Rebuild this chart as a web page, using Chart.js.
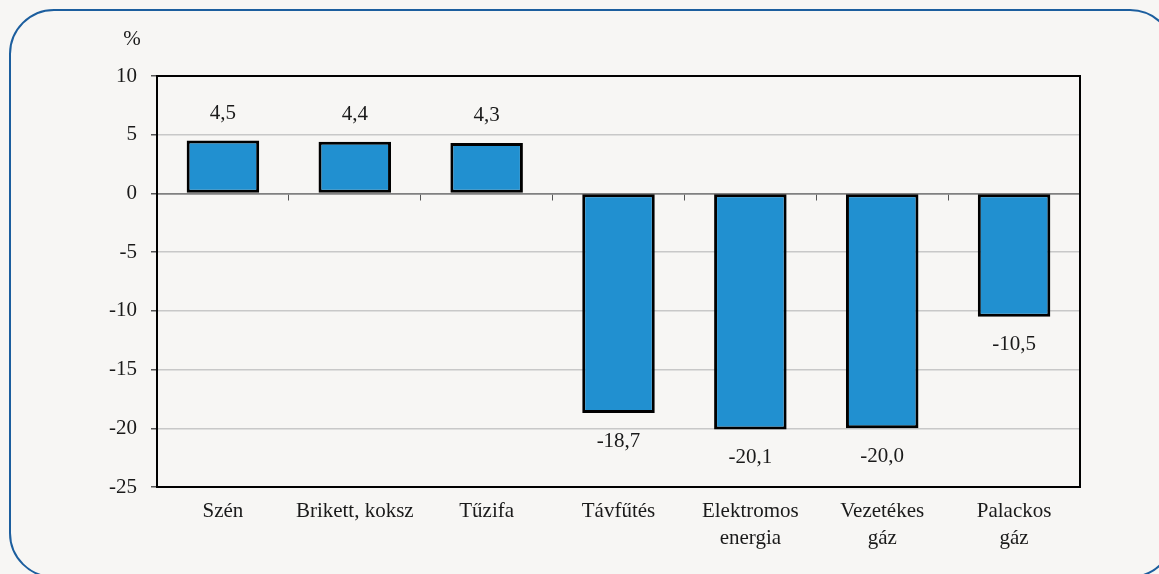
<!DOCTYPE html>
<html>
<head>
<meta charset="utf-8">
<script src="https://cdn.jsdelivr.net/npm/chart.js@4.4.1/dist/chart.umd.min.js"></script>
<style>
  html, body { margin: 0; padding: 0; background: #f7f6f4; overflow: hidden; }
  #wrap { position: relative; width: 1159px; height: 574px; overflow: hidden; }
  #frame {
    position: absolute; left: 9px; top: 9px; width: 1166px; height: 569px;
    border: 2px solid #1c5e9e; border-radius: 45px; box-sizing: border-box;
  }
  canvas { position: absolute; left: 0; top: 0; }
</style>
</head>
<body>
<div id="wrap">
  <div id="frame"></div>
  <canvas id="chart" width="1159" height="574"></canvas>
</div>
<script>
const categories = ['Szén', 'Brikett, koksz', 'Tűzifa', 'Távfűtés', ['Elektromos', 'energia'], ['Vezetékes', 'gáz'], ['Palackos', 'gáz']];
const values = [4.5, 4.4, 4.3, -18.7, -20.1, -20.0, -10.5];
const yTicks = [-25, -20, -15, -10, -5, 0, 5, 10];

const FONT = "'Liberation Serif', 'Times New Roman', serif";
const TEXT = '#1a1a1a';
const fmt = v => v.toFixed(1).replace('.', ',');

// frame around plot area, % unit and value labels
const extras = {
    id: 'extras',
    afterDatasetsDraw(chart) {
        const ctx = chart.ctx;
        const a = chart.chartArea;
        ctx.save();
        ctx.strokeStyle = '#000';
        ctx.lineWidth = 2;
        ctx.beginPath();
        ctx.moveTo(a.left, a.top);
        ctx.lineTo(a.right, a.top);
        ctx.lineTo(a.right, a.bottom);
        ctx.stroke();

        ctx.fillStyle = TEXT;
        ctx.font = '21px ' + FONT;
        ctx.textAlign = 'center';
        ctx.textBaseline = 'middle';
        ctx.fillText('%', a.left - 25, a.top - 37);

        const meta = chart.getDatasetMeta(0);
        meta.data.forEach((bar, i) => {
            const v = values[i];
            const y = v >= 0 ? bar.y - 27 : bar.y + 28;
            ctx.fillText(fmt(v), bar.x, y);
        });
        ctx.restore();
    }
};

new Chart(document.getElementById('chart'), {
    type: 'bar',
    data: {
        labels: categories,
        datasets: [{
            data: values,
            backgroundColor: '#2190d0',
            borderColor: '#000',
            borderWidth: 3,
            borderSkipped: false,
            categoryPercentage: 1,
            barPercentage: 0.55
        }]
    },
    options: {
        responsive: false,
        animation: false,
        layout: { padding: { top: 76, right: 79, left: 0, bottom: 0 } },
        plugins: { legend: { display: false }, tooltip: { enabled: false } },
        scales: {
            x: {
                position: 'bottom',
                afterFit: s => { s.height = 87; },
                grid: { display: false },
                border: { color: '#000', width: 2 },
                ticks: { color: TEXT, font: { family: FONT, size: 21, lineHeight: 1.3 }, padding: 3, maxRotation: 0, autoSkip: false }
            },
            x2: {
                type: 'category',
                position: { y: 0 },
                offset: true,
                grid: { offset: true, drawOnChartArea: false, tickLength: 6, color: '#555' },
                border: { color: '#808080', width: 1.5 },
                ticks: { display: false }
            },
            y: {
                min: -25,
                max: 10,
                afterFit: s => { s.width = 157; },
                afterBuildTicks: s => { s.ticks = yTicks.map(v => ({ value: v })); },
                grid: {
                    color: c => c.tick && c.tick.value === 0 ? '#808080' : '#c8c8c8',
                    lineWidth: 1.5,
                    tickColor: '#555',
                    tickLength: 6
                },
                border: { color: '#000', width: 2 },
                ticks: { color: TEXT, font: { family: FONT, size: 21 }, padding: 14 }
            }
        }
    },
    plugins: [extras]
});
</script>
</body>
</html>
